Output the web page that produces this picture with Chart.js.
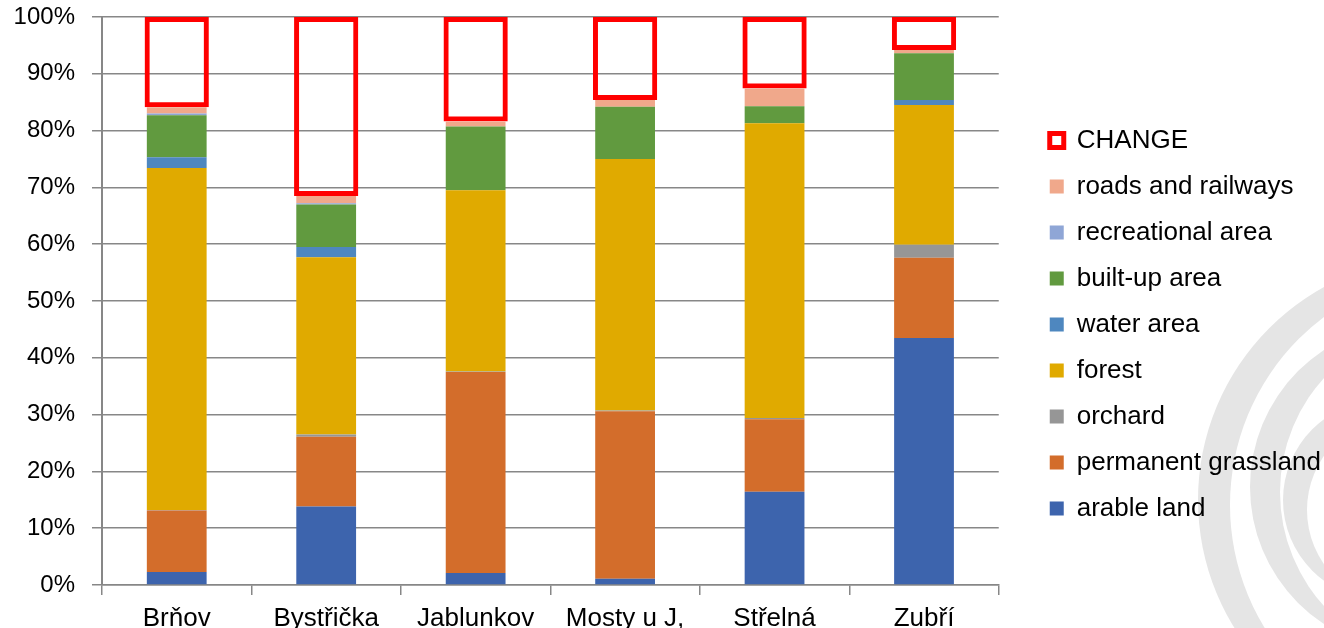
<!DOCTYPE html>
<html>
<head>
<meta charset="utf-8">
<title>Land use change</title>
<script src="https://cdn.jsdelivr.net/npm/chart.js@4/dist/chart.umd.min.js"></script>
<style>
  body { margin: 0; background: #fff; overflow: hidden; }
  #wrap { width: 1324px; height: 640px; }
</style>
</head>
<body>
<div id="wrap"><canvas id="chart"></canvas></div>
<script>
'use strict';

// categories (villages)
const villages = ['Brňov', 'Bystřička', 'Jablunkov', 'Mosty u J,', 'Střelná', 'Zubří'];

// land use shares in % (bottom to top of the stack)
const arableLand = [2.3, 13.8, 2.1, 1.1, 16.4, 43.5];
const permanentGrassland = [10.8, 12.3, 35.4, 29.5, 12.8, 14.1];
const orchard = [0.1, 0.4, 0.1, 0.1, 0.2, 2.3];
const forest = [60.2, 31.2, 31.9, 44.3, 51.9, 24.6];
const waterArea = [1.9, 1.8, 0, 0, 0, 0.9];
const builtUpArea = [7.4, 7.5, 11.2, 9.2, 3.0, 8.2];
const recreationalArea = [0.3, 0.2, 0, 0, 0, 0];
const roadsAndRailways = [1.1, 1.3, 0.9, 1.2, 3.1, 0.6];
const change = [15.9, 31.5, 18.4, 14.6, 12.6, 5.8];

const yTicks = [0, 10, 20, 30, 40, 50, 60, 70, 80, 90, 100];

const FONT = '"Liberation Sans", Arial, sans-serif';
const GRID = '#878787';

// light grey crescents in the lower right corner (background decoration)
const swirl = {
  id: 'swirl',
  beforeDraw(chart) {
    let ctx = chart.ctx;
    const rings = [
      // outer circle, then the circle cut out of it
      [[1441, 500, 243], [1465, 505, 235]],
      [[1414, 487, 164], [1450, 492, 170]],
      [[1383, 500, 100], [1402, 510, 95]]
    ];
    ctx.save();
    for (let i = 0; i < rings.length; i++) {
      let outer = rings[i][0];
      let inner = rings[i][1];
      ctx.beginPath();
      ctx.arc(outer[0], outer[1], outer[2], 0, Math.PI * 2);
      ctx.fillStyle = '#e5e5e5';
      ctx.fill();
      ctx.beginPath();
      ctx.arc(inner[0], inner[1], inner[2], 0, Math.PI * 2);
      ctx.fillStyle = '#ffffff';
      ctx.fill();
    }
    ctx.restore();
  }
};

// push the legend a bit away from the plot and up a little
const legendGap = {
  id: 'legendGap',
  afterLayout(chart) {
    let lg = chart.legend;
    lg.left = chart.chartArea.right + 31;
    lg.right = lg.left + lg.width;
    lg.top -= 4;
    lg.bottom -= 4;
  }
};

function bar(label, data, color) {
  return {
    label: label,
    data: data,
    backgroundColor: color,
    borderWidth: 0,
    barPercentage: 0.4,
    categoryPercentage: 1
  };
}

const datasets = [
  bar('arable land', arableLand, '#3d64ad'),
  bar('permanent grassland', permanentGrassland, '#d36d2b'),
  bar('orchard', orchard, '#969696'),
  bar('forest', forest, '#e0aa00'),
  bar('water area', waterArea, '#4e87bf'),
  bar('built-up area', builtUpArea, '#619a3f'),
  bar('recreational area', recreationalArea, '#8fa6d6'),
  bar('roads and railways', roadsAndRailways, '#f0a88b'),
  {
    label: 'CHANGE',
    data: change,
    backgroundColor: 'rgba(0,0,0,0)',
    borderColor: '#ff0000',
    borderWidth: 5,
    borderSkipped: false,
    barPercentage: 0.43,
    categoryPercentage: 1
  }
];

Chart.defaults.font.family = FONT;
Chart.defaults.color = '#000';

new Chart(document.getElementById('chart'), {
  type: 'bar',
  data: { labels: villages, datasets: datasets },
  plugins: [swirl, legendGap],
  options: {
    responsive: true,
    maintainAspectRatio: false,
    animation: false,
    layout: { padding: { top: 17, right: 24, bottom: 0, left: 0 } },
    plugins: {
      tooltip: { enabled: false },
      legend: {
        position: 'right',
        reverse: true,
        labels: {
          boxWidth: 14,
          boxHeight: 14,
          padding: 20,
          font: { size: 26 },
          color: '#000'
        }
      }
    },
    scales: {
      x: {
        stacked: true,
        grid: {
          offset: true,
          drawOnChartArea: false,
          color: GRID,
          lineWidth: 1.5,
          tickLength: 10
        },
        border: { color: GRID, width: 1.5 },
        ticks: { padding: 8, font: { size: 26 }, color: '#000', maxRotation: 0 },
        afterFit(s) { s.height = 55; }
      },
      y: {
        stacked: true,
        min: 0,
        max: 100,
        afterBuildTicks(s) { s.ticks = yTicks.map(v => ({ value: v })); },
        grid: { color: GRID, lineWidth: 1.5, tickLength: 10 },
        border: { color: GRID, width: 2 },
        ticks: {
          padding: 17,
          font: { size: 24 },
          color: '#000',
          callback: v => v + '%'
        },
        afterFit(s) {
          s.width = 102;
          s.paddingTop = 0;
          s.paddingBottom = 0;
        }
      }
    }
  }
});
</script>
</body>
</html>
